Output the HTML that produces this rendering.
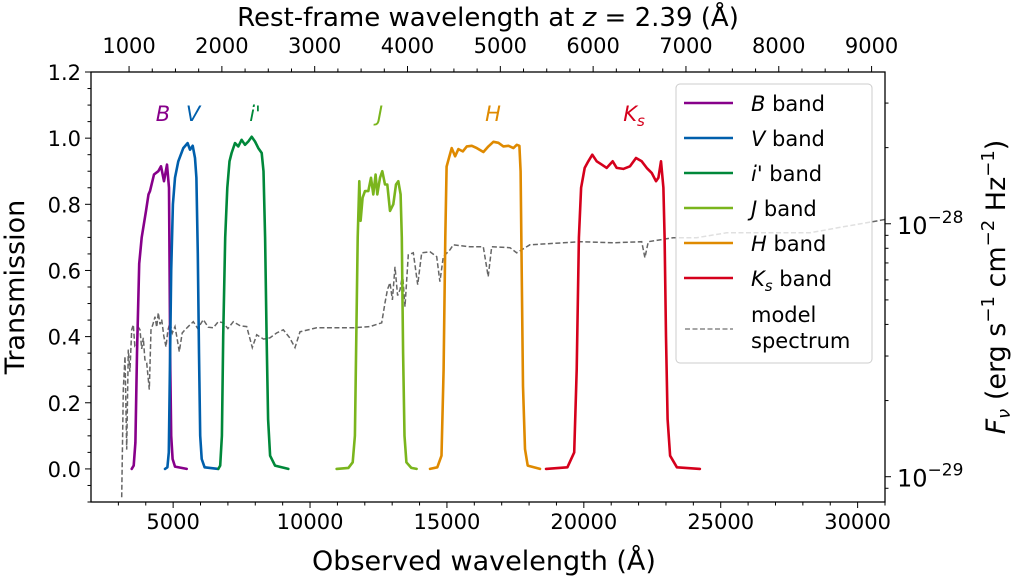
<!DOCTYPE html>
<html><head><meta charset="utf-8"><style>
html,body{margin:0;padding:0;background:#fff;}
svg{display:block;font-family:"DejaVu Sans","Liberation Sans",sans-serif;}
</style></head><body>
<svg id="chart" width="1020" height="580" viewBox="0 0 1020 580"></svg>
<script>
const bandNames=["B","V","i'","J","H","Ks"];
const bandColors=["#87008a","#005fac","#00883a","#7ab51d","#df8a00","#d5001c"];
const bLam=[3485,3560,3620,3680,3760,3850,3950,4009,4100,4155,4301,4459,4556,4666,4776,4849,4870,4897,4930,4980,5068,5494];
const bT=[0,0.01,0.08,0.35,0.62,0.7,0.75,0.78,0.83,0.84,0.89,0.90,0.915,0.87,0.92,0.85,0.6,0.3,0.1,0.03,0.007,0];
const vLam=[4702,4790,4840,4880,4930,4990,5068,5189,5372,5530,5616,5713,5798,5850,5900,5944,5990,6042,6150,6650];
const vT=[0,0.005,0.05,0.3,0.6,0.8,0.88,0.93,0.97,0.985,0.965,0.977,0.94,0.88,0.65,0.35,0.1,0.03,0.005,0];
const iLam=[6650,6720,6780,6830,6900,6979,7060,7137,7259,7380,7502,7624,7746,7868,7989,8111,8233,8300,8360,8415,8470,8540,8720,9207];
const iT=[0,0.01,0.1,0.4,0.7,0.85,0.93,0.955,0.985,0.975,0.995,0.98,0.99,1.004,0.99,0.97,0.955,0.9,0.7,0.4,0.15,0.04,0.01,0];
const jLam=[10972,11400,11560,11640,11690,11740,11800,11848,11921,12006,12128,12226,12311,12396,12457,12554,12640,12737,12822,12920,13041,13138,13224,13309,13350,13400,13450,13520,13700,13893];
const jT=[0,0.003,0.02,0.1,0.4,0.7,0.87,0.75,0.82,0.84,0.84,0.88,0.83,0.89,0.83,0.88,0.90,0.86,0.86,0.78,0.80,0.86,0.87,0.83,0.7,0.35,0.1,0.02,0.003,0];
const hLam=[14380,14650,14800,14880,14940,14989,15087,15176,15298,15420,15578,15724,15907,16090,16333,16516,16699,16881,17064,17247,17429,17551,17648,17690,17730,17780,17850,17950,18400];
const hT=[0,0.005,0.04,0.3,0.7,0.914,0.944,0.97,0.945,0.967,0.96,0.975,0.977,0.97,0.958,0.975,0.989,0.986,0.975,0.977,0.97,0.98,0.977,0.9,0.6,0.25,0.06,0.01,0];
const kLam=[18617,19400,19650,19740,19820,19900,20031,20163,20310,20469,20652,20834,21053,21199,21443,21687,21906,22113,22296,22478,22637,22722,22820,22905,22950,23000,23060,23150,23400,24241];
const kT=[0,0.005,0.05,0.3,0.7,0.85,0.91,0.93,0.95,0.93,0.92,0.91,0.93,0.91,0.907,0.915,0.94,0.93,0.91,0.895,0.87,0.88,0.93,0.85,0.7,0.4,0.15,0.04,0.005,0];
// model spectrum, F_nu in units of 1e-29 erg s^-1 cm^-2 Hz^-1
const specLam=[3121,3180,3242,3304,3362,3420,3486,3545,3600,3669,3730,3789,3850,3910,3970,4034,4129,4191,4260,4337,4400,4458,4520,4582,4660,4739,4810,4885,4970,5068,5150,5225,5330,5433,5580,5736,5900,6101,6280,6466,6650,6832,7000,7197,7450,7686,7891,8051,8300,8537,8780,9023,9250,9450,9633,10243,10973,11579,12189,12616,12737,12830,12920,13010,13102,13200,13285,13380,13467,13588,13771,13931,14077,14380,14625,14745,14866,15111,15231,15841,16327,16509,16634,17302,17547,18032,19249,19858,21074,22112,22232,22353,23266,24121,25216,26797,28258,29474,30570,31000];
const specF=[0.83,2.21,2.99,1.28,3.18,2.6,3.81,3.99,3.3,3.39,3.9,3.81,3.2,3.54,2.9,2.82,2.21,3.81,4.0,4.29,3.9,4.45,4.0,4.18,3.6,3.26,3.8,4.06,3.7,3.92,3.5,3.12,3.7,3.81,3.95,4.10,3.85,4.18,3.9,3.88,4.1,4.06,3.85,4.10,3.95,3.92,3.24,3.64,3.5,3.54,3.7,3.81,3.55,3.24,3.74,3.88,3.88,3.88,3.92,4.06,4.87,5.5,5.85,5.0,6.76,5.2,5.48,6.3,4.70,7.54,7.68,5.74,7.68,7.75,7.41,5.90,7.41,7.89,8.26,8.11,8.11,6.18,8.11,8.04,7.68,8.26,8.41,8.49,8.41,8.49,7.34,8.49,8.81,8.81,9.21,9.21,9.21,9.73,10.2,10.4];
const xTicks=[5000,10000,15000,20000,25000,30000];
const yTicks=[0,0.2,0.4,0.6,0.8,1.0,1.2];
const restTicks=[1000,2000,3000,4000,5000,6000,7000,8000,9000];
const zRed=2.39;

const L=91,R=885,T=72,B=502,XMIN=2000,XMAX=31000,YMIN=-0.1,YMAX=1.2;
const LOGMIN=-0.10,LOGMAX=1.60;
const xs=v=>L+(v-XMIN)/(XMAX-XMIN)*(R-L);
const ys=v=>B-(v-YMIN)/(YMAX-YMIN)*(B-T);
const yr=f=>B-(Math.log10(f)-LOGMIN)/(LOGMAX-LOGMIN)*(B-T);
const svg=document.getElementById('chart');
const NS="http://www.w3.org/2000/svg";
function mk(tag,attrs,parent){const e=document.createElementNS(NS,tag);for(const k in attrs)e.setAttribute(k,attrs[k]);(parent||svg).appendChild(e);return e;}

const clip=mk('clipPath',{id:'pc'});mk('rect',{x:L,y:T,width:R-L,height:B-T},clip);

let d=specLam.map((l,i)=>(i?'L':'M')+xs(l).toFixed(1)+','+yr(specF[i]).toFixed(1)).join('');
const sp=mk('path',{d:d,fill:'none',stroke:'#666','stroke-width':1.5,'stroke-dasharray':'5,2.5','clip-path':'url(#pc)'});



const bands=[[bLam,bT],[vLam,vT],[iLam,iT],[jLam,jT],[hLam,hT],[kLam,kT]];
const bandKeys=['b','v','i','j','h','ks'];
bands.forEach((b,k)=>{
  const p=mk('path',{d:b[0].map((l,i)=>(i?'L':'M')+xs(l).toFixed(1)+','+ys(b[1][i]).toFixed(1)).join(''),fill:'none',stroke:bandColors[k],'stroke-width':2.6,'stroke-linejoin':'round','stroke-linecap':'round'});
  
  
});
const labX=[163,193,255,380,493,634];
bandNames.forEach((n,k)=>{
  const t=mk('text',{x:labX[k],y:121,fill:bandColors[k],'font-size':21,'font-style':'italic','text-anchor':'middle'});
  if(n==='Ks'){t.innerHTML='K<tspan font-size="15" dy="5">s</tspan>';}else t.textContent=n;
  
  
});

mk('rect',{x:L,y:T,width:R-L,height:B-T,fill:'none',stroke:'#000','stroke-width':1.3});
for(let v=3000;v<=31000;v+=1000){const x=xs(v);const maj=v%5000===0;mk('line',{x1:x,x2:x,y1:B,y2:B+(maj?6:3.5),stroke:'#000','stroke-width':1});}
xTicks.forEach(v=>{const t=mk('text',{x:xs(v),y:B+27,'font-size':21,'text-anchor':'middle'});t.textContent=v;
});
for(let i=-2;i<=24;i++){const v=i*0.05;const y=ys(v);const maj=i%4===0;mk('line',{x1:L,x2:L-(maj?6:3.5),y1:y,y2:y,stroke:'#000','stroke-width':1});}
yTicks.forEach(v=>{const t=mk('text',{x:L-10,y:ys(v)+8,'font-size':21,'text-anchor':'end'});t.textContent=v.toFixed(1);
});
for(let r=1000;r<=9000;r+=250){const x=xs(r*(1+zRed));if(x>R)break;const maj=r%1000===0;mk('line',{x1:x,x2:x,y1:T,y2:T-(maj?6:3.5),stroke:'#000','stroke-width':1});}
restTicks.forEach(r=>{const t=mk('text',{x:xs(r*(1+zRed)),y:T-19,'font-size':21,'text-anchor':'middle'});t.textContent=r;
});
[0.9,1,2,3,4,5,6,7,8,9,10,20,30].forEach(f=>{const y=yr(f);const maj=(f===1||f===10);mk('line',{x1:R,x2:R+(maj?6:3.5),y1:y,y2:y,stroke:'#000','stroke-width':1});});
[[1,'29'],[10,'28']].forEach(([f,e])=>{const t=mk('text',{x:R+12,y:yr(f)+10,'font-size':24});t.innerHTML='10<tspan font-size="17" dy="-11">−'+e+'</tspan>';
});

let t=mk('text',{x:(L+R)/2-4,y:570,'font-size':27,'text-anchor':'middle'});t.textContent='Observed wavelength (Å)';

t=mk('text',{x:(L+R)/2,y:26,'font-size':26,'text-anchor':'middle'});t.innerHTML='Rest-frame wavelength at <tspan font-style="italic">z</tspan> = 2.39 (Å)';

t=mk('text',{x:0,y:0,'font-size':27,'text-anchor':'middle',transform:'translate(24,287) rotate(-90)'});t.textContent='Transmission';

t=mk('text',{x:0,y:0,'font-size':27,'text-anchor':'middle',transform:'translate(1005,287) rotate(-90)'});
t.innerHTML='<tspan font-style="italic">F</tspan><tspan font-size="18" dy="5" font-style="italic">ν</tspan><tspan dy="-5"> (erg s</tspan><tspan font-size="18" dy="-11">−1</tspan><tspan dy="11"> cm</tspan><tspan font-size="18" dy="-11">−2</tspan><tspan dy="11"> Hz</tspan><tspan font-size="18" dy="-11">−1</tspan><tspan dy="11">)</tspan>';


const lg=mk('g',{});
mk('rect',{x:676,y:84,width:196,height:279,rx:4,fill:'#fff','fill-opacity':0.8,stroke:'#ccc','stroke-width':1},lg);
const legY=[103,138,173,208,243,278];
const legHtml=['<tspan font-style="italic">B</tspan> band','<tspan font-style="italic">V</tspan> band','<tspan font-style="italic">i\'</tspan> band','<tspan font-style="italic">J</tspan> band','<tspan font-style="italic">H</tspan> band','<tspan font-style="italic">K</tspan><tspan font-style="italic" font-size="15" dy="5">s</tspan><tspan dy="-5"> band</tspan>'];
bandNames.forEach((n,k)=>{
  const g=mk('g',{},lg);
  mk('line',{x1:684,x2:733,y1:legY[k],y2:legY[k],stroke:bandColors[k],'stroke-width':2.6},g);
  const tt=mk('text',{x:751,y:legY[k]+8,'font-size':21},g);
  tt.innerHTML=legHtml[k];
});
const ge=mk('g',{},lg);
mk('line',{x1:685,x2:733,y1:329,y2:329,stroke:'#888','stroke-width':1.5,'stroke-dasharray':'5,2.5'},ge);
t=mk('text',{x:751,y:322,'font-size':21},ge);t.textContent='model';
t=mk('text',{x:751,y:348,'font-size':21},ge);t.textContent='spectrum';
</script>
</body></html>
